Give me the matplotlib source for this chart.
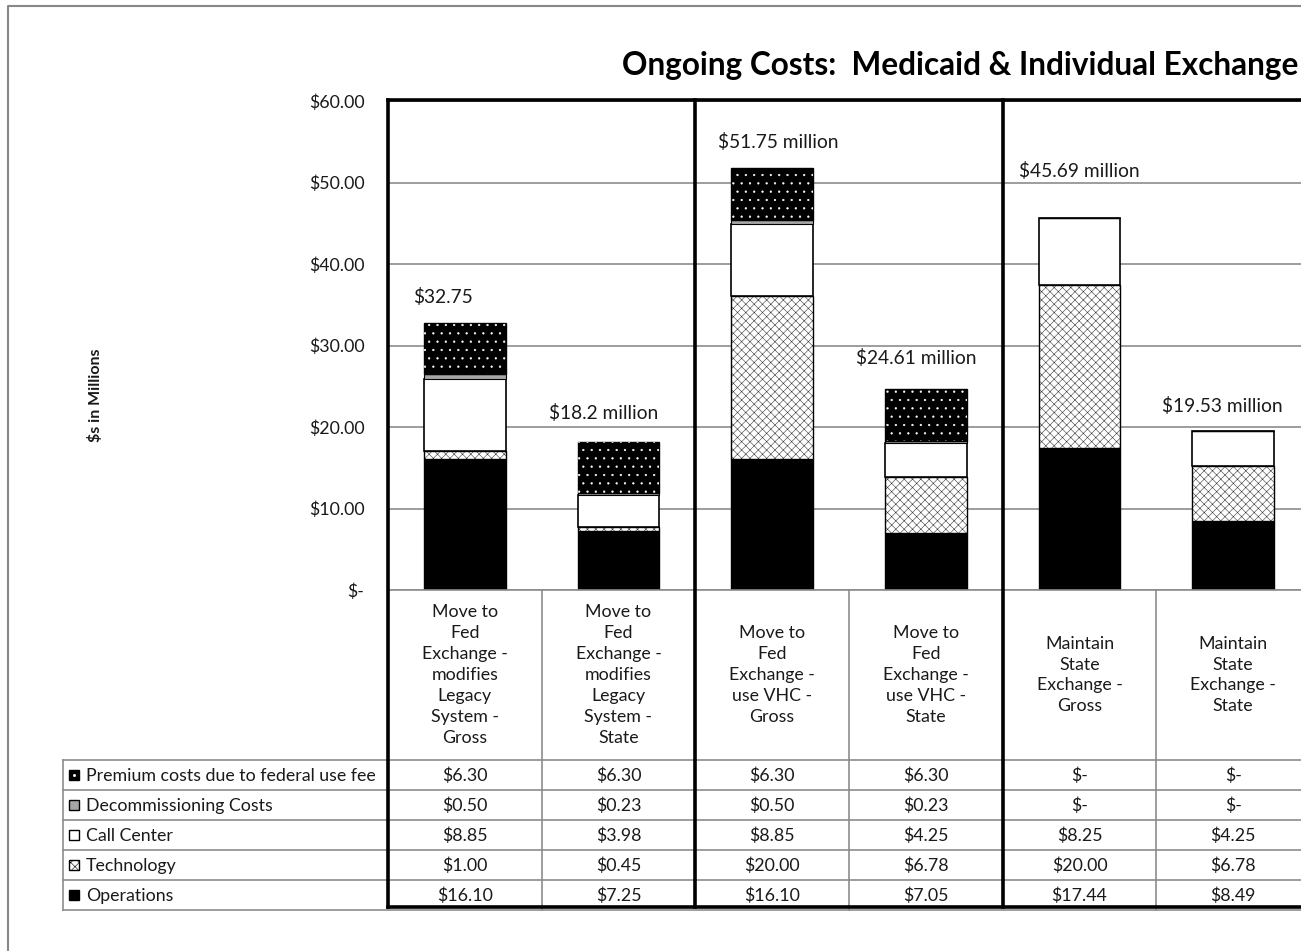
import matplotlib
matplotlib.use('Agg')
import matplotlib.pyplot as plt
from matplotlib.patches import Rectangle
from matplotlib.lines import Line2D
import numpy as np

plt.rcParams['font.family'] = ['Lato', 'DejaVu Sans']
plt.rcParams['hatch.linewidth'] = 0.4

#  chart data (values in $ millions)
categories = ['Move to\nFed\nExchange -\nmodifies\nLegacy\nSystem -\nGross',
              'Move to\nFed\nExchange -\nmodifies\nLegacy\nSystem -\nState',
              'Move to\nFed\nExchange -\nuse VHC -\nGross',
              'Move to\nFed\nExchange -\nuse VHC -\nState',
              'Maintain\nState\nExchange -\nGross',
              'Maintain\nState\nExchange -\nState']
operations = [16.10, 7.25, 16.10, 7.05, 17.44, 8.49]
technology = [1.00, 0.45, 20.00, 6.78, 20.00, 6.78]
call_center = [8.85, 3.98, 8.85, 4.25, 8.25, 4.25]
decommissioning = [0.50, 0.23, 0.50, 0.23, 0.0, 0.0]
premium = [6.30, 6.30, 6.30, 6.30, 0.0, 0.0]
total_labels = ['$32.75', '$18.2 million', '$51.75 million', '$24.61 million',
                '$45.69 million', '$19.53 million']
series_names = ['Premium costs due to federal use fee', 'Decommissioning Costs',
                'Call Center', 'Technology', 'Operations']
y_ticks = [0, 10, 20, 30, 40, 50, 60]
y_ticklabels = ['$-', '$10.00', '$20.00', '$30.00', '$40.00', '$50.00', '$60.00']

#  label placement (layout only)
label_y = [35.9, 21.7, 55.0, 28.5, 51.4, 22.6]
label_dx = [-0.14, -0.10, 0.04, -0.06, 0.0, -0.07]

W, H = 1301, 951
TXT = '#1a1a1a'
GRID = '#8c8c8c'
FS = 12.8

fig = plt.figure(figsize=(W / 100, H / 100), dpi=100)

#  pixel layout of the chart
px_left, px_right = 388, 1310
px_top, px_base = 101, 590
cw = (px_right - px_left) / len(categories)

ax = fig.add_axes([px_left / W, 1 - px_base / H, (px_right - px_left) / W,
                   (px_base - px_top) / H])
ax.set_xlim(0, len(categories))
ax.set_ylim(0, 60)
for s in ax.spines.values():
    s.set_visible(False)
ax.set_xticks([])
ax.set_yticks(y_ticks)
ax.set_yticklabels(y_ticklabels, fontsize=FS, color=TXT)
ax.tick_params(axis='y', length=0, pad=17)
ax.yaxis.grid(True, color=GRID, linewidth=1.2)
ax.set_axisbelow(True)

x = np.arange(len(categories)) + 0.5
bw = 0.53
ops = np.array(operations)
tech = np.array(technology)
cc = np.array(call_center)
dec = np.array(decommissioning)
prem = np.array(premium)

ax.bar(x, ops, bw, color='black', edgecolor='black', linewidth=1)
ax.bar(x, tech, bw, bottom=ops, color='white', edgecolor='#3a3a3a',
       hatch='xxxx', linewidth=0)
ax.bar(x, tech, bw, bottom=ops, color='none', edgecolor='black', linewidth=1)
ax.bar(x, cc, bw, bottom=ops + tech, color='white', edgecolor='black', linewidth=1.2)
ax.bar(x, dec, bw, bottom=ops + tech + cc, color='#a6a6a6', edgecolor='black',
       linewidth=0.8)
b = ops + tech + cc + dec
ax.bar(x, prem, bw, bottom=b, color='black', edgecolor='black', linewidth=1)
ax.bar(x, prem, bw, bottom=b, color='none', edgecolor='white', hatch='..',
       linewidth=0)

for i in range(len(categories)):
    ax.text(x[i] + label_dx[i], label_y[i], total_labels[i], ha='center',
            va='center', fontsize=13.8, color=TXT)

#  overlay in pixel coordinates for table and frames
ov = fig.add_axes([0, 0, 1, 1], facecolor='none')
ov.set_xlim(0, W)
ov.set_ylim(H, 0)
ov.axis('off')

#  outer chart border
ov.add_line(Line2D([7.5, 7.5, W], [H, 5.5, 5.5], color='#888888', linewidth=1.5))

fig.text(622 / W, 1 - 66 / H, 'Ongoing Costs:  Medicaid & Individual Exchange',
         fontsize=22.7, fontweight='bold', color='black', ha='left', va='center')
fig.text(95 / W, 1 - 395 / H, '$s in Millions', rotation=90, fontsize=11.5,
         fontweight='bold', color=TXT, ha='center', va='center')

#  data table
row_top = 760
row_h = 30
tab_left = 63
tab_bottom = row_top + row_h * len(series_names)
rows = [premium, decommissioning, call_center, technology, operations]

for r in range(len(series_names) + 1):
    yy = row_top + r * row_h
    ov.add_line(Line2D([tab_left, W], [yy, yy], color=GRID, linewidth=1.2))
ov.add_line(Line2D([px_left, W], [px_base, px_base], color=GRID, linewidth=1.2))
ov.add_line(Line2D([tab_left, tab_left], [row_top, tab_bottom], color=GRID,
                   linewidth=1.2))
for i in range(1, len(categories), 2):
    xx = px_left + i * cw
    ov.add_line(Line2D([xx, xx], [px_base, tab_bottom], color=GRID, linewidth=1.2))

for i, lab in enumerate(categories):
    cx = px_left + (i + 0.5) * cw
    ov.text(cx, (px_base + row_top) / 2, lab, ha='center', va='center',
            fontsize=FS, color=TXT, linespacing=1.38)
    for r, vals in enumerate(rows):
        v = vals[i]
        s = '$-' if v == 0 else f'${v:.2f}'
        ov.text(cx, row_top + (r + 0.5) * row_h + 1, s, ha='center', va='center',
                fontsize=FS, color=TXT)

key_styles = [dict(facecolor='black', edgecolor='black'),
              dict(facecolor='#a6a6a6', edgecolor='black'),
              dict(facecolor='white', edgecolor='black'),
              dict(facecolor='white', edgecolor='black', hatch='xxxx'),
              dict(facecolor='black', edgecolor='black')]
for r, name in enumerate(series_names):
    cy = row_top + (r + 0.5) * row_h
    ov.add_patch(Rectangle((69, cy - 5), 10, 10, linewidth=1, **key_styles[r]))
    if r == 0:
        ov.plot([74], [cy], marker='s', markersize=1.0, color='white', linewidth=0)
    ov.text(86, cy + 1, name, ha='left', va='center', fontsize=FS, color=TXT)

#  thick group frames
for xx in [px_left, px_left + 2 * cw, px_left + 4 * cw, px_left + 6 * cw]:
    ov.add_line(Line2D([xx, xx], [100, 907], color='black', linewidth=2.6))
ov.add_line(Line2D([px_left, W], [100, 100], color='black', linewidth=2.6))
ov.add_line(Line2D([px_left, W], [906.5, 906.5], color='black', linewidth=2.6))

fig.savefig('out.png', dpi=100)
